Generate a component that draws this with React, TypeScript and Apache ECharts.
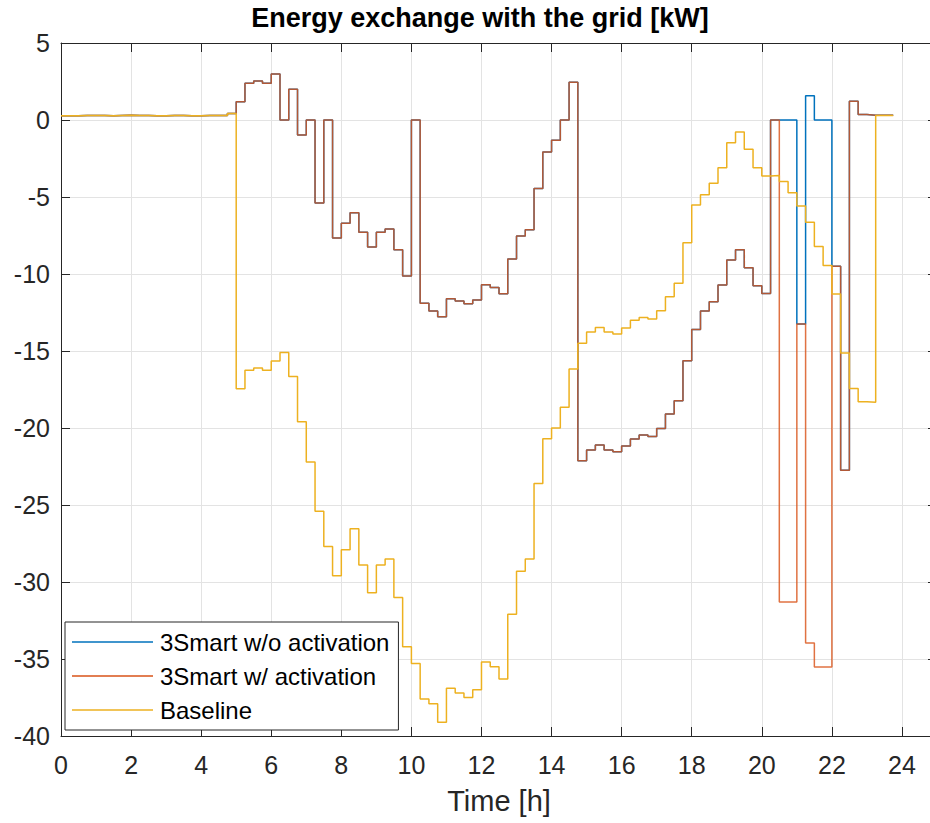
import React, { useEffect, useRef } from "react";
import * as echarts from "echarts";

// 15-minute resolution, 96 slots from 00:00 to 23:45
const SLOT_HOURS = 0.25;

// Grid exchange with the 3Smart controller, no flexibility activation [kW]
const smartNoActivation = [
  0.28, 0.28, 0.3, 0.3, 0.29, 0.28, 0.3, 0.31, 0.3, 0.29, 0.28, 0.28, 0.3, 0.29, 0.28, 0.28, 0.3, 0.3, 0.29, 0.43,
  1.19, 2.38, 2.53, 2.38, 2.99, 0, 1.99, -0.97, 0, -5.39, 0, -7.66, -6.71, -6.02, -7.29, -8.25,
  -7.29, -7.08, -8.42, -10.13, 0, -11.9, -12.4, -12.77, -11.6, -11.75, -11.93, -11.69,
  -10.69, -10.87, -11.28, -9.03, -7.53, -7.12, -4.44, -2.08, -1.32, 0, 2.45, -22.12,
  -21.43, -21.1, -21.43, -21.54, -21.17, -20.71, -20.45, -20.56, -20.04, -19.09, -18.23, -15.63,
  -13.6, -12.4, -11.8, -10.71, -9.09, -8.42, -9.59, -10.76, -11.26, 0, 0, 0,
  -13.25, 1.58, 0, 0, -9.5, -22.75, 1.21, 0.35, 0.31, 0.31, 0.31, 0.31,
];

// Grid exchange with the 3Smart controller, flexibility activated [kW]
const smartActivation = [
  0.28, 0.28, 0.3, 0.3, 0.29, 0.28, 0.3, 0.31, 0.3, 0.29, 0.28, 0.28, 0.3, 0.29, 0.28, 0.28, 0.3, 0.3, 0.29, 0.43,
  1.19, 2.38, 2.53, 2.38, 2.99, 0, 1.99, -0.97, 0, -5.39, 0, -7.66, -6.71, -6.02, -7.29, -8.25,
  -7.29, -7.08, -8.42, -10.13, 0, -11.9, -12.4, -12.77, -11.6, -11.75, -11.93, -11.69,
  -10.69, -10.87, -11.28, -9.03, -7.53, -7.12, -4.44, -2.08, -1.32, 0, 2.45, -22.12,
  -21.43, -21.1, -21.43, -21.54, -21.17, -20.71, -20.45, -20.56, -20.04, -19.09, -18.23, -15.63,
  -13.6, -12.4, -11.8, -10.71, -9.09, -8.42, -9.59, -10.76, -11.26, 0, -31.3, -31.3,
  -13.25, -33.96, -35.52, -35.52, -9.5, -22.75, 1.21, 0.35, 0.31, 0.31, 0.31, 0.31,
];

// Grid exchange without any control [kW]
const baseline = [
  0.28, 0.28, 0.3, 0.3, 0.29, 0.28, 0.3, 0.31, 0.3, 0.29, 0.28, 0.28, 0.3, 0.29, 0.28, 0.28, 0.3, 0.3, 0.29, 0.43,
  -17.45, -16.25, -16.1, -16.25, -15.65, -15.1, -16.65, -19.6, -22.2, -25.4, -27.7, -29.6,
  -27.9, -26.55, -28.9, -30.7, -28.9, -28.5, -31.0, -34.2, -35.3, -37.6, -37.9, -39.1,
  -36.9, -37.2, -37.5, -37.0, -35.2, -35.5, -36.3, -32.1, -29.3, -28.5, -23.6, -20.7,
  -20.0, -18.66, -16.17, -14.5, -13.77, -13.47, -13.77, -13.9, -13.5, -13.0, -12.83, -12.92,
  -12.38, -11.47, -10.6, -7.97, -5.52, -4.85, -4.11, -3.1, -1.47, -0.78, -1.9, -3.1,
  -3.64, -3.6, -4.0, -4.72, -5.58, -6.64, -8.22, -9.44, -11.3, -15.13, -17.43, -18.29,
  -18.33, 0.3, 0.3, 0.3,
];

const seriesNames = ["3Smart w/o activation", "3Smart w/ activation", "Baseline"];
const xTickStep = 2;
const yTickStep = 5;

const FONT = "'Liberation Sans', Arial, Helvetica, sans-serif";
const AXIS_COLOR = "#262626";
const GRID_COLOR = "#e3e3e3";

const toPoints = (values: number[]) => values.map((v, i) => [i * SLOT_HOURS, v]);

export default function App() {
  const ref = useRef<HTMLDivElement>(null);

  useEffect(() => {
    document.body.style.margin = "0";
    document.body.style.overflow = "hidden";
    const chart = echarts.init(ref.current as HTMLDivElement, undefined, { renderer: "svg" });

    const valueAxisCommon = {
      type: "value" as const,
      axisLine: { show: true, onZero: false, lineStyle: { color: AXIS_COLOR, width: 1 } },
      axisTick: { show: true, inside: true, length: 9, lineStyle: { color: AXIS_COLOR, width: 1 } },
    };

    const stepLine = (name: string, data: number[], color: string, opacity: number, z: number) => ({
      name,
      type: "line",
      step: "end",
      symbol: "none",
      data: toPoints(data),
      z,
      lineStyle: { color, width: 1.5, opacity },
      itemStyle: { color },
    });

    chart.setOption({
      animation: false,
      backgroundColor: "#ffffff",
      grid: { left: 61, top: 43, right: 23, bottom: 87, containLabel: false },
      graphic: [
        {
          type: "text",
          x: 480,
          y: 4,
          style: {
            text: "Energy exchange with the grid [kW]",
            font: `bold 27px ${FONT}`,
            fill: "#000",
            align: "center",
            verticalAlign: "top",
          },
        },
      ],
      legend: {
        orient: "vertical",
        left: 65,
        top: 622,
        padding: [8, 9, 8, 7],
        itemGap: 10,
        itemWidth: 81,
        itemHeight: 1.5,
        icon: "rect",
        borderColor: AXIS_COLOR,
        borderWidth: 1,
        borderRadius: 0,
        backgroundColor: "#ffffff",
        data: seriesNames,
        textStyle: { fontFamily: FONT, fontSize: 24, color: "#000", lineHeight: 24, padding: [0, 0, 0, 2] },
      },
      xAxis: [
        {
          ...valueAxisCommon,
          position: "bottom",
          min: 0,
          max: 25,
          interval: xTickStep,
          name: "Time [h]",
          nameLocation: "middle",
          nameGap: 50,
          nameTextStyle: { fontFamily: FONT, fontSize: 29, color: AXIS_COLOR },
          axisLabel: {
            fontFamily: FONT,
            fontSize: 25,
            color: AXIS_COLOR,
            margin: 16,
            showMaxLabel: false,
          },
          splitLine: { show: true, lineStyle: { color: GRID_COLOR, width: 1 } },
        },
        {
          ...valueAxisCommon,
          position: "top",
          min: 0,
          max: 25,
          interval: xTickStep,
          axisLabel: { show: false },
          splitLine: { show: false },
        },
      ],
      yAxis: [
        {
          ...valueAxisCommon,
          position: "left",
          min: -40,
          max: 5,
          interval: yTickStep,
          axisLabel: { fontFamily: FONT, fontSize: 25, color: AXIS_COLOR, margin: 11 },
          splitLine: { show: true, lineStyle: { color: GRID_COLOR, width: 1 } },
        },
        {
          ...valueAxisCommon,
          position: "right",
          min: -40,
          max: 5,
          interval: yTickStep,
          axisLabel: { show: false },
          splitLine: { show: false },
        },
      ],
      series: [
        stepLine(seriesNames[0], smartNoActivation, "#0072BD", 1, 2),
        stepLine(seriesNames[1], smartActivation, "#D95319", 0.82, 3),
        stepLine(seriesNames[2], baseline, "#EDB120", 1, 4),
      ],
    });

    return () => chart.dispose();
  }, []);

  return (
    <div
      style={{
        position: "fixed",
        left: 0,
        top: 0,
        width: 930,
        height: 823,
        overflow: "hidden",
        background: "#ffffff",
      }}
    >
      <div ref={ref} style={{ width: 960, height: 823 }} />
    </div>
  );
}
